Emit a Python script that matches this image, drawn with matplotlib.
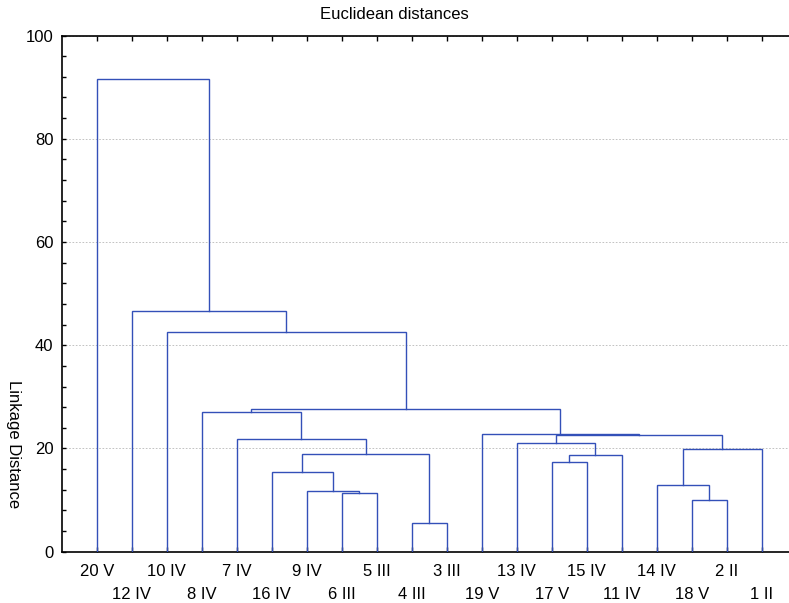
import matplotlib
matplotlib.use("Agg")
import matplotlib.pyplot as plt
from matplotlib.ticker import MultipleLocator, FixedLocator

plt.rcParams['font.family'] = ['Liberation Sans', 'DejaVu Sans']

# Leaf labels in dendrogram order
leaf_labels = ['20 V', '12 IV', '10 IV', '8 IV', '7 IV', '16 IV', '9 IV', '6 III',
               '5 III', '4 III', '3 III', '19 V', '13 IV', '17 V', '15 IV', '11 IV',
               '14 IV', '18 V', '2 II', '1 II']

# Merges: (left cluster id, right cluster id); new clusters get ids 20, 21, ...
merge_left = [9, 17, 7, 6, 16, 5, 13, 26, 25, 24, 12, 4, 30, 11, 3, 34, 2, 1, 0]
merge_right = [10, 18, 8, 22, 21, 23, 14, 15, 20, 19, 27, 28, 29, 32, 31, 33, 35, 36, 37]
merge_height = [5.6, 10.1, 11.3, 11.75, 12.9, 15.4, 17.4, 18.7, 19.0, 19.8,
                21.0, 21.75, 22.6, 22.8, 27.1, 27.55, 42.5, 46.6, 91.6]

title = 'Euclidean distances'
ylabel = 'Linkage Distance'

W, H = 789, 603
fig = plt.figure(figsize=(W / 100, H / 100), dpi=100)
ax = fig.add_axes([61.7 / W, (H - 551.7) / H, (W - 61.7) / W, (551.7 - 35.5) / H])

n = len(leaf_labels)
pos = {i: float(i + 1) for i in range(n)}
hgt = {i: 0.0 for i in range(n)}
line_color = '#3350b8'
for k, (a, b, h) in enumerate(zip(merge_left, merge_right, merge_height)):
    xa, xb = pos[a], pos[b]
    ax.plot([xa, xa, xb, xb], [hgt[a], h, h, hgt[b]], color=line_color, lw=1.0,
            solid_joinstyle='miter', zorder=3)
    new = n + k
    pos[new] = (xa + xb) / 2
    hgt[new] = h

ax.set_xlim(0, (W - 61.7) / 35.0)
ax.set_ylim(0, 100)

ax.yaxis.set_major_locator(MultipleLocator(20))
ax.yaxis.set_minor_locator(MultipleLocator(4))
ax.xaxis.set_major_locator(FixedLocator(list(range(1, n + 1))))
ax.set_xticklabels([])
ax.tick_params(axis='x', which='major', direction='in', length=3.6, width=1.0,
               top=True, bottom=True, labelbottom=False)
ax.tick_params(axis='y', which='both', direction='in', length=2.6, width=1.0,
               right=False, labelsize=12, pad=6)
ax.grid(axis='y', which='major', color='#b8b8b8', linestyle=(0, (2, 2)), lw=0.6)
ax.set_axisbelow(True)

for s in ['left', 'bottom', 'top']:
    ax.spines[s].set_linewidth(1.2)
ax.spines['right'].set_visible(False)

for i, lab in enumerate(leaf_labels):
    off = -19.5 if i % 2 == 0 else -43
    ax.annotate(lab, xy=(i + 1, 0), xycoords=('data', 'axes fraction'),
                xytext=(0, off), textcoords='offset pixels',
                ha='center', va='center', fontsize=12, annotation_clip=False)

fig.text(0.5, 1 - 14.5 / H, title, ha='center', va='center', fontsize=12)
fig.text(13.5 / W, 1 - 444 / H, ylabel, ha='center', va='center', fontsize=12,
         rotation=270)

fig.savefig('out.png', dpi=100)
